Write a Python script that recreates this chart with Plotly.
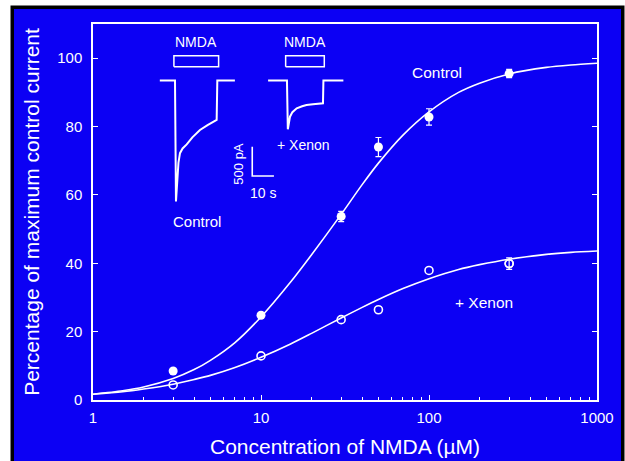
import plotly.graph_objects as go
import math

# ---- Dose-response data (percentage of maximum control current) ----
conc = [3, 10, 30, 50, 100, 300]                      # NMDA concentration (uM)
control_pct = [8.5, 24.8, 53.7, 74.0, 82.8, 95.5]
control_err = [0.6, 0.8, 1.5, 2.8, 2.4, 1.2]
xenon_pct = [4.4, 12.9, 23.5, 26.4, 37.9, 39.9]
xenon_err = [None, None, None, None, None, 1.7]   # bars smaller than the symbol are not drawn

# Fitted logistic curves, sampled along the concentration axis
fit_conc = [1, 1.5, 2, 3, 4, 5, 7, 10, 15, 20, 30, 40, 50, 70, 100, 150, 200, 300, 500, 700, 1000]
control_fit = [1.7, 2.7, 3.8, 6.3, 8.9, 11.6, 16.8, 24.3, 34.5, 42.5, 54.3, 63.0, 69.3, 77.5, 84.3,
               90.0, 92.7, 95.4, 97.3, 98.0, 98.5]
xenon_fit = [1.7, 2.4, 3.2, 4.6, 6.0, 7.2, 9.5, 12.5, 16.4, 19.5, 24.0, 27.1, 29.4, 32.6, 35.5,
             38.2, 39.6, 41.2, 42.6, 43.2, 43.6]

x_ticks = [1, 10, 100, 1000]
x_ticktext = ["1", "10", "100", "1000"]
y_ticks = [0, 20, 40, 60, 80, 100]

# ---- Inset: example whole-cell currents (time in s, current in pA) ----
ctl_t = [-7.0, 0.0, 0.45, 0.8, 1.1, 1.6, 2.3, 3.5, 5.4, 8.0, 11.5, 15.0, 19.2, 19.5, 27.6]
ctl_i = [0, 0, -2065, -1800, -1620, -1400, -1240, -1160, -1090, -970, -845, -760, -674, 0, 0]
xen_t = [42.9, 51.6, 52.0, 53.0, 54.1, 56.1, 58.6, 60.6, 63.6, 68.2, 68.4, 77.6]
xen_i = [0, 0, -833, -617, -540, -475, -440, -418, -405, -390, 0, 0]
nmda_start = [-0.5, 51.0]
nmda_end = [20.1, 68.8]
nmda_bar_low, nmda_bar_high = 235, 423
scale_t0, scale_dt = 35.6, 10.0           # 10 s bar
scale_i0, scale_di = -1630, 500           # 500 pA bar

BLUE = "#0c00f4"
WHITE = "#ffffff"
FONT = "Liberation Sans, Arial, sans-serif"

fig = go.Figure()

# fitted curves
for fit in (control_fit, xenon_fit):
    fig.add_trace(go.Scatter(x=fit_conc, y=fit, mode="lines",
                             line=dict(color=WHITE, width=1.6, shape="spline", smoothing=0.8),
                             showlegend=False, hoverinfo="skip"))

# measured points
fig.add_trace(go.Scatter(x=conc, y=control_pct, mode="markers",
                         marker=dict(symbol="circle", size=9, color=WHITE, line=dict(width=0)),
                         error_y=dict(type="data", array=control_err, color=WHITE, thickness=1.2, width=3),
                         showlegend=False))
open_marker = dict(symbol="circle-open", size=8, color=WHITE, line=dict(width=1.6, color=WHITE))
fig.add_trace(go.Scatter(x=conc, y=xenon_pct, mode="markers", marker=open_marker, showlegend=False))
# error bars only where they extend past the open symbol
eb = [(c, v, e) for c, v, e in zip(conc, xenon_pct, xenon_err) if e is not None]
fig.add_trace(go.Scatter(x=[b[0] for b in eb], y=[b[1] for b in eb], mode="markers", marker=open_marker,
                         error_y=dict(type="data", array=[b[2] for b in eb], color=WHITE, thickness=1.2, width=3),
                         showlegend=False))

# inset current traces
fig.add_trace(go.Scatter(x=ctl_t, y=ctl_i, xaxis="x2", yaxis="y2", mode="lines",
                         line=dict(color=WHITE, width=2.0), showlegend=False, hoverinfo="skip"))
fig.add_trace(go.Scatter(x=xen_t, y=xen_i, xaxis="x2", yaxis="y2", mode="lines",
                         line=dict(color=WHITE, width=2.0), showlegend=False, hoverinfo="skip"))
# NMDA application bars
for s, e in zip(nmda_start, nmda_end):
    fig.add_trace(go.Scatter(x=[s, e, e, s, s],
                             y=[nmda_bar_low, nmda_bar_low, nmda_bar_high, nmda_bar_high, nmda_bar_low],
                             xaxis="x2", yaxis="y2", mode="lines", line=dict(color=WHITE, width=1.5),
                             showlegend=False, hoverinfo="skip"))
    fig.add_annotation(x=(s + e) / 2, y=nmda_bar_high + 60, xref="x2", yref="y2", text="NMDA",
                       showarrow=False, yanchor="bottom", font=dict(family=FONT, size=14, color=WHITE))
# scale bar
fig.add_trace(go.Scatter(x=[scale_t0, scale_t0, scale_t0 + scale_dt],
                         y=[scale_i0 + scale_di, scale_i0, scale_i0],
                         xaxis="x2", yaxis="y2", mode="lines", line=dict(color=WHITE, width=1.6),
                         showlegend=False, hoverinfo="skip"))
fig.add_annotation(x=scale_t0 - 6.4, y=scale_i0 + 217, xref="x2", yref="y2", text="500 pA", textangle=-90,
                   showarrow=False, font=dict(family=FONT, size=13, color=WHITE))
fig.add_annotation(x=scale_t0 + 5.1, y=scale_i0 - 295, xref="x2", yref="y2", text="10 s",
                   showarrow=False, font=dict(family=FONT, size=14, color=WHITE))
fig.add_annotation(x=10.0, y=-2405, xref="x2", yref="y2", text="Control",
                   showarrow=False, font=dict(family=FONT, size=15, color=WHITE))
fig.add_annotation(x=59.1, y=-1100, xref="x2", yref="y2", text="+ Xenon",
                   showarrow=False, font=dict(family=FONT, size=14, color=WHITE))

# curve labels
fig.add_annotation(x=math.log10(111), y=95.7, xref="x", yref="y", text="Control",
                   showarrow=False, font=dict(family=FONT, size=15.5, color=WHITE))
fig.add_annotation(x=math.log10(212), y=28.4, xref="x", yref="y", text="+ Xenon",
                   showarrow=False, font=dict(family=FONT, size=15.5, color=WHITE))

# page frame: white page, thin black border, blue panel
L, T, W, H = 93, 24, 504, 376
def px(x):
    return (x - L) / W
def py(y):
    return (T + H - y) / H
fig.add_shape(type="rect", xref="paper", yref="paper", x0=px(10.5), x1=px(624.5), y0=py(475), y1=py(5.5),
              fillcolor="black", line=dict(width=0), layer="below")
fig.add_shape(type="rect", xref="paper", yref="paper", x0=px(14), x1=px(621), y0=py(475), y1=py(9),
              fillcolor=BLUE, line=dict(width=0), layer="below")

axis_font = dict(family=FONT, size=15, color=WHITE)
fig.update_layout(
    width=625, height=461,
    margin=dict(l=L, r=625 - L - W, t=T, b=461 - T - H, autoexpand=False),
    paper_bgcolor="white",
    plot_bgcolor="rgba(0,0,0,0)",
    font=dict(family=FONT, color=WHITE),
    xaxis=dict(type="log", range=[0, 3], tickvals=x_ticks, ticktext=x_ticktext,
               ticks="inside", ticklen=5, tickwidth=1.2, tickcolor=WHITE,
               minor=dict(ticks="inside", ticklen=3, tickwidth=1, tickcolor=WHITE, dtick="D1", showgrid=False),
               showline=True, linecolor=WHITE, linewidth=1.5, mirror=True, showgrid=False, zeroline=False,
               tickfont=axis_font, ticklabelstandoff=3,
               title=dict(text="Concentration of NMDA (\u00b5M)", font=dict(family=FONT, size=21, color=WHITE),
                          standoff=15)),
    yaxis=dict(range=[0, 110], tickvals=y_ticks, ticks="inside", ticklen=5, tickwidth=1.2, tickcolor=WHITE,
               showline=True, linecolor=WHITE, linewidth=1.5, mirror="ticks", showgrid=False, zeroline=False,
               tickfont=axis_font, ticklabelstandoff=6,
               title=dict(text="Percentage of maximum control current",
                          font=dict(family=FONT, size=21, color=WHITE), standoff=12)),
    xaxis2=dict(domain=[px(150), px(350)], range=[-11.52, 80.65], anchor="y2", visible=False, fixedrange=True),
    yaxis2=dict(domain=[py(230), py(40)], range=[-2551, 691], anchor="x2", visible=False, fixedrange=True),
)

fig.write_html("out.html")
